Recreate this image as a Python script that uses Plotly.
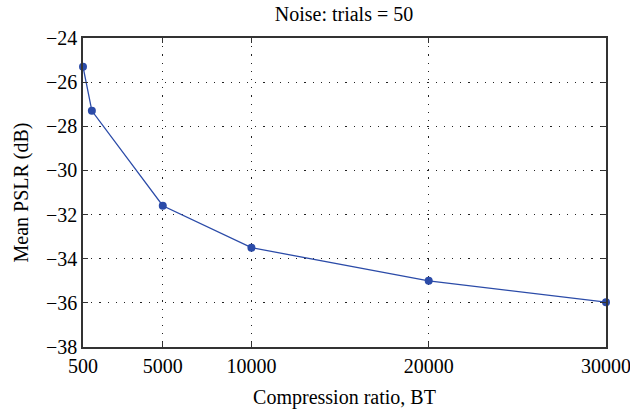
import plotly.graph_objects as go

bt = [500, 1000, 5000, 10000, 20000, 30000]
pslr = [-25.3, -27.3, -31.6, -33.5, -35.0, -35.97]
x_ticks = [500, 5000, 10000, 20000, 30000]
y_ticks = [-38, -36, -34, -32, -30, -28, -26, -24]

font = "Times New Roman, Liberation Serif, DejaVu Serif, serif"
fs = 20

fig = go.Figure()
fig.add_trace(go.Scatter(
    x=bt, y=pslr, mode="lines+markers",
    line=dict(color="#2b4ba8", width=1.3),
    marker=dict(color="#2b4ba8", size=8),
    cliponaxis=False, showlegend=False,
))

axis_common = dict(
    showline=True, linecolor="#333333", linewidth=1.5, mirror="ticks",
    ticks="inside", ticklen=5, tickcolor="#333333",
    showgrid=True, gridcolor="#222222", griddash="1.2px,7px", gridwidth=1.2,
    zeroline=False, tickfont=dict(family=font, size=fs, color="black"),
    automargin=False, ticklabeloverflow="allow",
)

fig.update_xaxes(range=[500, 30000], tickvals=x_ticks, ticktext=[str(v) for v in x_ticks],
                 title=dict(text="Compression ratio, BT", font=dict(family=font, size=fs, color="black"), standoff=14),
                 **axis_common)
fig.update_yaxes(range=[-38, -24], tickvals=y_ticks,
                 title=dict(text="Mean PSLR (dB)", font=dict(family=font, size=fs, color="black"), standoff=12),
                 **axis_common)

fig.update_layout(
    width=630, height=410,
    margin=dict(l=83, r=24, t=38, b=63),
    paper_bgcolor="white", plot_bgcolor="white",
    font=dict(family=font),
    title=dict(text="Noise: trials = 50", x=0.546, xanchor="center", y=0.965, yanchor="middle",
               font=dict(family=font, size=fs, color="black")),
)

fig.write_html("out.html")
